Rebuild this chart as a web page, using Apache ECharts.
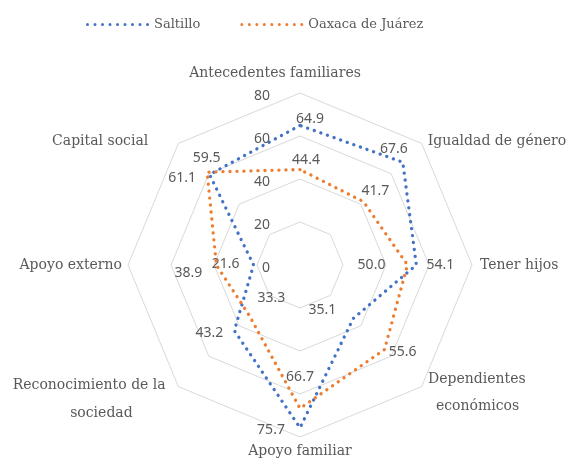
<!DOCTYPE html>
<html><head><meta charset="utf-8">
<script src="https://cdn.jsdelivr.net/npm/echarts@6/dist/echarts.min.js"></script>
<style>html,body{margin:0;padding:0;background:#fff}#c{width:566px;height:459px}</style>
</head><body><div id="c"></div>
<script>
// ---- data (natural clockwise order, starting at the top) ----
const indicators = ['Antecedentes familiares', 'Igualdad de género', 'Tener hijos', 'Dependientes económicos', 'Apoyo familiar', 'Reconocimiento de la sociedad', 'Apoyo externo', 'Capital social'];
const saltillo = [64.9, 67.6, 54.1, 35.1, 75.7, 43.2, 21.6, 59.5];
const oaxaca = [44.4, 41.7, 50.0, 55.6, 66.7, 33.3, 38.9, 61.1];
const seriesNames = ['Saltillo', 'Oaxaca de Juárez'];
const axisMin = 0, axisMax = 80, axisStep = 20;

// ---- styling (positions of labels, name gaps) ----
const colors = ['#4472C4', '#ED7D31'];
const labelOffsets = [
  [[10, -6], [-9, -13], [24, 0], [-31, -8], [-29, 2], [-25, 2], [-28, -1], [-3, -17]],
  [[6, -10], [12, -11], [-36, 0], [18, 2], [0, -31], [22, -18], [-28, 8], [-25, 6]]
];
const nameGaps = [6, 3, 8, 9, 1, 18, 6, 3];
const namePads = [[0,50,0,0],[0,0,0,4],[0,0,0,0],[0,0,0,0],[0,0,0,0],[0,0,0,0],[0,0,0,0],[0,28,0,0]];

// ECharts places indicators counter-clockwise; reorder to get the clockwise layout
const order = [0, 7, 6, 5, 4, 3, 2, 1];
const re = arr => order.map(i => arr[i]);

const textColor = '#595959';
const serif = 'DejaVu Serif';
const sans = 'Noto Sans';
const nameSize = 14;

function nameFormatter(name) {
  if (name === 'Dependientes económicos') return '{n|Dependientes}\n{d|económicos}';
  if (name === 'Reconocimiento de la sociedad') return '{m|Reconocimiento de la}\n{r|sociedad}';
  return '{n|' + name + '}';
}

const indicatorOpts = re(indicators.map((n, i) => ({
  name: n, min: axisMin, max: axisMax, nameGap: nameGaps[i],
  nameTextStyle: { padding: namePads[i] }
})));
indicatorOpts[0].axisLabel = {
  show: true, color: textColor, fontFamily: sans, fontSize: 14, margin: 30,
  verticalAlign: 'top', lineHeight: 7,
  showMinLabel: true, showMaxLabel: true
};

const dotPath = 'path://' + Array.from({length: 9}, (_, k) => {
  const x = k * 7.5;
  return 'M' + x + ',1.5a1.5,1.5 0 1,0 3,0a1.5,1.5 0 1,0 -3,0Z';
}).join('');

function buildSeries(vals, sIdx) {
  const name = seriesNames[sIdx];
  const v = re(vals);
  const data = [{
    name: name, value: v, symbol: 'none',
    lineStyle: { color: colors[sIdx], width: 3.3, type: [0.1, 6.9], cap: 'round' },
    itemStyle: { color: colors[sIdx] },
    label: { show: false }
  }];
  vals.forEach((val, i) => {
    data.push({
      name: name, value: v, symbol: 'circle', symbolSize: 2,
      itemStyle: { color: 'rgba(0,0,0,0)' },
      lineStyle: { opacity: 0 },
      label: {
        show: true, position: 'inside', offset: labelOffsets[sIdx][i],
        color: textColor, fontFamily: sans, fontSize: 14,
        formatter: p => (p.value === val ? val.toFixed(1) : '')
      }
    });
  });
  return {
    type: 'radar', name: name, color: colors[sIdx], silent: true,
    emphasis: { disabled: true }, z: 2 + sIdx, data: data
  };
}

const chart = echarts.init(document.getElementById('c'));
chart.setOption({
  animation: false,
  backgroundColor: '#fff',
  legend: {
    left: 81, top: 13, itemWidth: 63, itemHeight: 3, itemGap: 40,
    selectedMode: false,
    textStyle: { color: textColor, fontFamily: serif, fontSize: 13 },
    data: seriesNames.map((n, i) => ({ name: n, icon: dotPath, itemStyle: { color: colors[i] } }))
  },
  radar: {
    center: [300, 265], radius: 172, startAngle: 90, shape: 'polygon',
    splitNumber: (axisMax - axisMin) / axisStep,
    indicator: indicatorOpts,
    axisName: {
      color: textColor, fontFamily: serif, fontSize: nameSize,
      formatter: nameFormatter,
      rich: {
        n: { color: textColor, fontFamily: serif, fontSize: nameSize, lineHeight: 27 },
        d: { color: textColor, fontFamily: serif, fontSize: nameSize, lineHeight: 27, padding: [0, 0, 0, 8] },
        m: { color: textColor, fontFamily: serif, fontSize: nameSize, lineHeight: 28 },
        r: { color: textColor, fontFamily: serif, fontSize: nameSize, lineHeight: 28, padding: [0, 33, 0, 0] }
      }
    },
    splitLine: { lineStyle: { color: '#d9d9d9', width: 1 } },
    splitArea: { show: false },
    axisLine: { show: false },
    axisTick: { show: false },
    axisLabel: { show: false }
  },
  series: [buildSeries(saltillo, 0), buildSeries(oaxaca, 1)]
});
</script></body></html>
